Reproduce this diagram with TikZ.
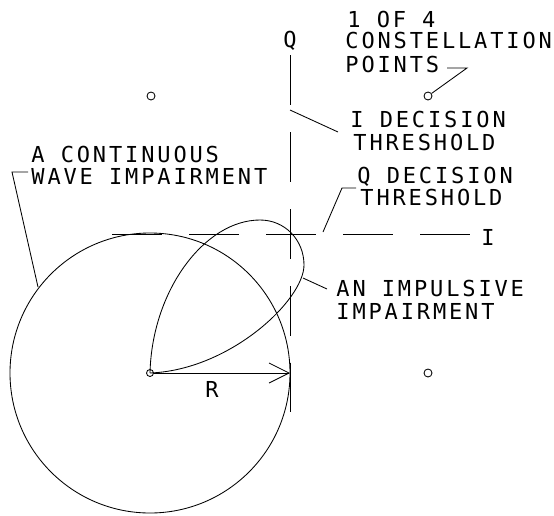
\documentclass[tikz,border=0pt]{standalone}
\usepackage{fontspec}
\newfontfamily\cadfont[LetterSpace=13]{DejaVu Sans Mono}
\usetikzlibrary{arrows.meta}
\begin{document}
\begin{tikzpicture}[x=1pt,y=-1pt,line width=0.85pt,
  lbl/.style={anchor=base west,inner sep=0pt,font=\cadfont\fontsize{22}{22}\selectfont},
  axis/.style={dash pattern=on 50pt off 27pt},
  pt/.style={circle,draw,minimum size=8pt,inner sep=0pt},
  leader/.style={}]
\useasboundingbox (0,0) rectangle (554,515);
% axes
\coordinate (qtop) at (290,55);
\coordinate (qbot) at (290,412);
\coordinate (ileft) at (112,234);
\coordinate (iright) at (470,234);
\draw[axis] (qtop) -- (qbot);
\draw[axis] (ileft) -- (iright);
\node[lbl] (qlab) at (283,47) {Q};
\node[lbl] (ilab) at (481,245) {I};
% constellation points
\node[pt] (p1) at (151,96) {};
\node[pt] (p2) at (428,96) {};
\node[pt,minimum size=7pt] (p3) at (150,373) {};
\node[pt] (p4) at (428,373) {};
% continuous wave circle
\coordinate (c) at (150,373);
\draw (c) circle[radius=140];
% radius arrow
\coordinate (rend) at (290,373);
\draw[-{Straight Barb[length=20pt,width=20pt]}] (p3.east) -- (rend);
\node[lbl] (rlab) at (205,397) {R};
% impulsive impairment loop
\draw (c) .. controls (152,290) and (205,220) .. (260,220)
          .. controls (285,220) and (304,240) .. (304,265)
          .. controls (304,300) and (230,370) .. (c);
% texts
\node[lbl] (t1a) at (347,27) {1 OF 4};
\node[lbl] (t1b) at (345,48) {CONSTELLATION};
\node[lbl] (t1c) at (345,72) {POINTS};
\node[lbl] (t2a) at (350,127) {I DECISION};
\node[lbl] (t2b) at (353,150) {THRESHOLD};
\node[lbl] (t3a) at (357,183) {Q DECISION};
\node[lbl] (t3b) at (360,205) {THRESHOLD};
\node[lbl] (t4a) at (31,162) {A CONTINUOUS};
\node[lbl] (t4b) at (31,184) {WAVE IMPAIRMENT};
\node[lbl] (t5a) at (336,296) {AN IMPULSIVE};
\node[lbl] (t5b) at (336,319) {IMPAIRMENT};
% leaders
\coordinate (l1a) at (447,68);
\coordinate (l1b) at (467,68);
\draw[leader] (l1a) -- (l1b) -- (p2);
\coordinate (l2a) at (290,110);
\coordinate (l2b) at (338,132);
\draw[leader] (l2a) -- (l2b);
\coordinate (l3a) at (356,188);
\coordinate (l3b) at (342,188);
\coordinate (l3c) at (323,232);
\draw[leader] (l3a) -- (l3b) -- (l3c);
\coordinate (l4a) at (28,172);
\coordinate (l4b) at (12,172);
\coordinate (l4c) at (38,287);
\draw[leader] (l4a) -- (l4b) -- (l4c);
\coordinate (l5a) at (303,278);
\coordinate (l5b) at (327,289);
\draw[leader] (l5a) -- (l5b);
\end{tikzpicture}
\end{document}
